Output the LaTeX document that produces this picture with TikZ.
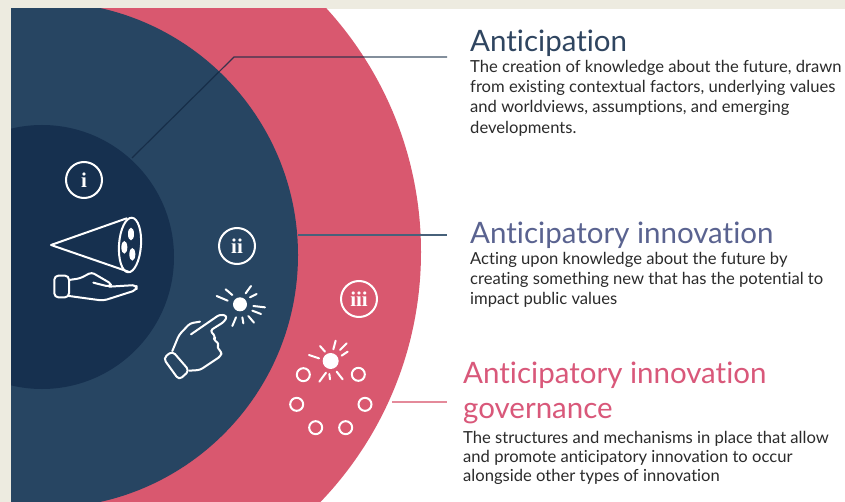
\documentclass[tikz,border=0pt]{standalone}
\usepackage{fontspec}
\setmainfont{Lato}[Ligatures=NoCommon]
\newfontfamily\numfont{Liberation Serif}
\definecolor{paper}{HTML}{EDEBE0}
\definecolor{innerblue}{HTML}{16304F}
\definecolor{midblue}{HTML}{274562}
\definecolor{rose}{HTML}{D9586F}
\definecolor{bodytext}{HTML}{2B2B2B}
\definecolor{titleone}{HTML}{2F4560}
\definecolor{titletwo}{HTML}{5A6390}
\definecolor{titlethree}{HTML}{D9587A}
\tikzset{
  icon/.style={draw=white,line width=2pt,line cap=round,line join=round},
  ray/.style={draw=white,line width=2pt,line cap=round},
  numeral/.style={circle,draw=white,line width=2pt,minimum size=36pt,inner sep=0pt,text=white,font=\numfont\bfseries\fontsize{21}{21}\selectfont},
  heading/.style={anchor=north west,inner sep=0pt,align=left,font=\fontsize{29.5}{31}\selectfont},
  body/.style={anchor=north west,inner sep=0pt,align=left,text=bodytext,font=\fontsize{16.6}{20.2}\selectfont},
  ring/.style={circle,draw=white,line width=2pt,minimum size=13pt,inner sep=0pt},
}
\begin{document}
\begin{tikzpicture}[x=1pt,y=-1pt]
\useasboundingbox (0,0) rectangle (845,502);
\fill[paper] (0,0) rectangle (845,502);
\fill[white] (11,9) rectangle (845,502);
\begin{scope}
  \clip (11,9) rectangle (845,502);
  \fill[rose] (60,252) circle[radius=361];
  \fill[midblue] (45,255) circle[radius=253];
  \fill[innerblue] (42,257) circle[radius=132];
\end{scope}
% connectors
\coordinate (a1) at (132,158);
\coordinate (a2) at (234,57);
\coordinate (a3) at (447,57);
\coordinate (b1) at (298,235);
\coordinate (b2) at (447,235);
\coordinate (c1) at (392,402);
\coordinate (c2) at (447,402);
\draw[draw=innerblue!85!black,opacity=.8,line width=1.2pt] (a1) -- (a2) -- (a3);
\draw[draw=midblue!85!white,line width=1.2pt] (b1) -- (b2);
\draw[draw=rose!70!white,line width=1.2pt] (c1) -- (c2);
% numerals
\node[numeral] (ni) at (84,180) {i};
\node[numeral] (nii) at (237,246) {ii};
\node[numeral] (niii) at (359,299) {iii};
% telescope and open hand
\begin{scope}[shift={(45,210)},x=1/3*1pt,y=-1/3*1pt]
  \draw[icon] (245,25) -- (18,105) -- (250,185);
  \draw[icon,rotate around={-4:(255,105)}] (255,105) ellipse[x radius=33,y radius=82];
  \foreach \px/\py in {258/72,238/112,262/133}
    \fill[white] (\px,\py) ellipse[x radius=9,y radius=19];
  \draw[icon,rounded corners=4pt] (28,197) rectangle (72,262);
  \draw[icon,rounded corners=3pt] (72,210) -- (105,205) -- (140,187) -- (200,222) -- (192,230) -- (145,218);
  \draw[icon,rounded corners=4pt] (192,230) -- (275,225) -- (275,240) -- (175,272) -- (72,258);
\end{scope}
% pointing hand and spark
\begin{scope}[shift={(155,280)},x=1/3*1pt,y=-1/3*1pt]
  \draw[icon,rounded corners=4pt] (25,235) -- (52,213) -- (103,272) -- (72,300) -- cycle;
  \draw[icon,rounded corners=3pt] (52,213) -- (72,165) -- (105,130) -- (135,125);
  \draw[icon,rounded corners=3pt] (108,163) -- (195,103) -- (217,108) -- (208,125) -- (165,152) -- (182,170) -- (175,180) -- (193,190) -- (185,203) -- (200,215) -- (198,228) -- (135,270) -- (103,272);
  \fill[white] (255,73) circle[radius=21];
  \foreach \ax/\ay/\bx/\by in {185/48/218/62,212/28/232/45,272/40/288/18,285/52/305/42,295/78/330/82,292/92/318/102,280/108/297/128,262/112/265/130,243/112/232/138}
    \draw[ray] (\ax,\ay) -- (\bx,\by);
\end{scope}
% spark and rings
\begin{scope}[shift={(270,260)},x=1/3*1pt,y=-1/3*1pt]
  \fill[white] (182,303) circle[radius=24];
  \foreach \ax/\ay/\bx/\by in {117/285/147/295,150/258/165/275,190/268/197/242,210/270/230/250,215/287/233/275,168/338/148/365,178/342/180/358,200/335/218/358}
    \draw[ray] (\ax,\ay) -- (\bx,\by);
  \node[ring] (r1) at (100,344) {};
  \node[ring] (r2) at (265,343) {};
  \node[ring] (r3) at (80,433) {};
  \node[ring] (r4) at (285,433) {};
  \node[ring] (r5) at (137,503) {};
  \node[ring] (r6) at (227,503) {};
\end{scope}
% texts
\node[heading,text=titleone] (t1) at (470,30) {Anticipation};
\node[body] (d1) at (470,60) {The creation of knowledge about the future, drawn\\from existing contextual factors, underlying values\\and worldviews, assumptions, and emerging\\developments.};
\node[heading,text=titletwo] (t2) at (470,222) {Anticipatory innovation};
\node[body] (d2) at (470,252) {Acting upon knowledge about the future by\\creating something new that has the potential to\\impact public values};
\node[heading,text=titlethree,font=\fontsize{29.5}{35}\selectfont] (t3) at (463,362) {Anticipatory innovation\\governance};
\node[body,font=\fontsize{16.6}{19}\selectfont] (d3) at (463,431) {The structures and mechanisms in place that allow\\and promote anticipatory innovation to occur\\alongside other types of innovation};
\end{tikzpicture}
\end{document}
